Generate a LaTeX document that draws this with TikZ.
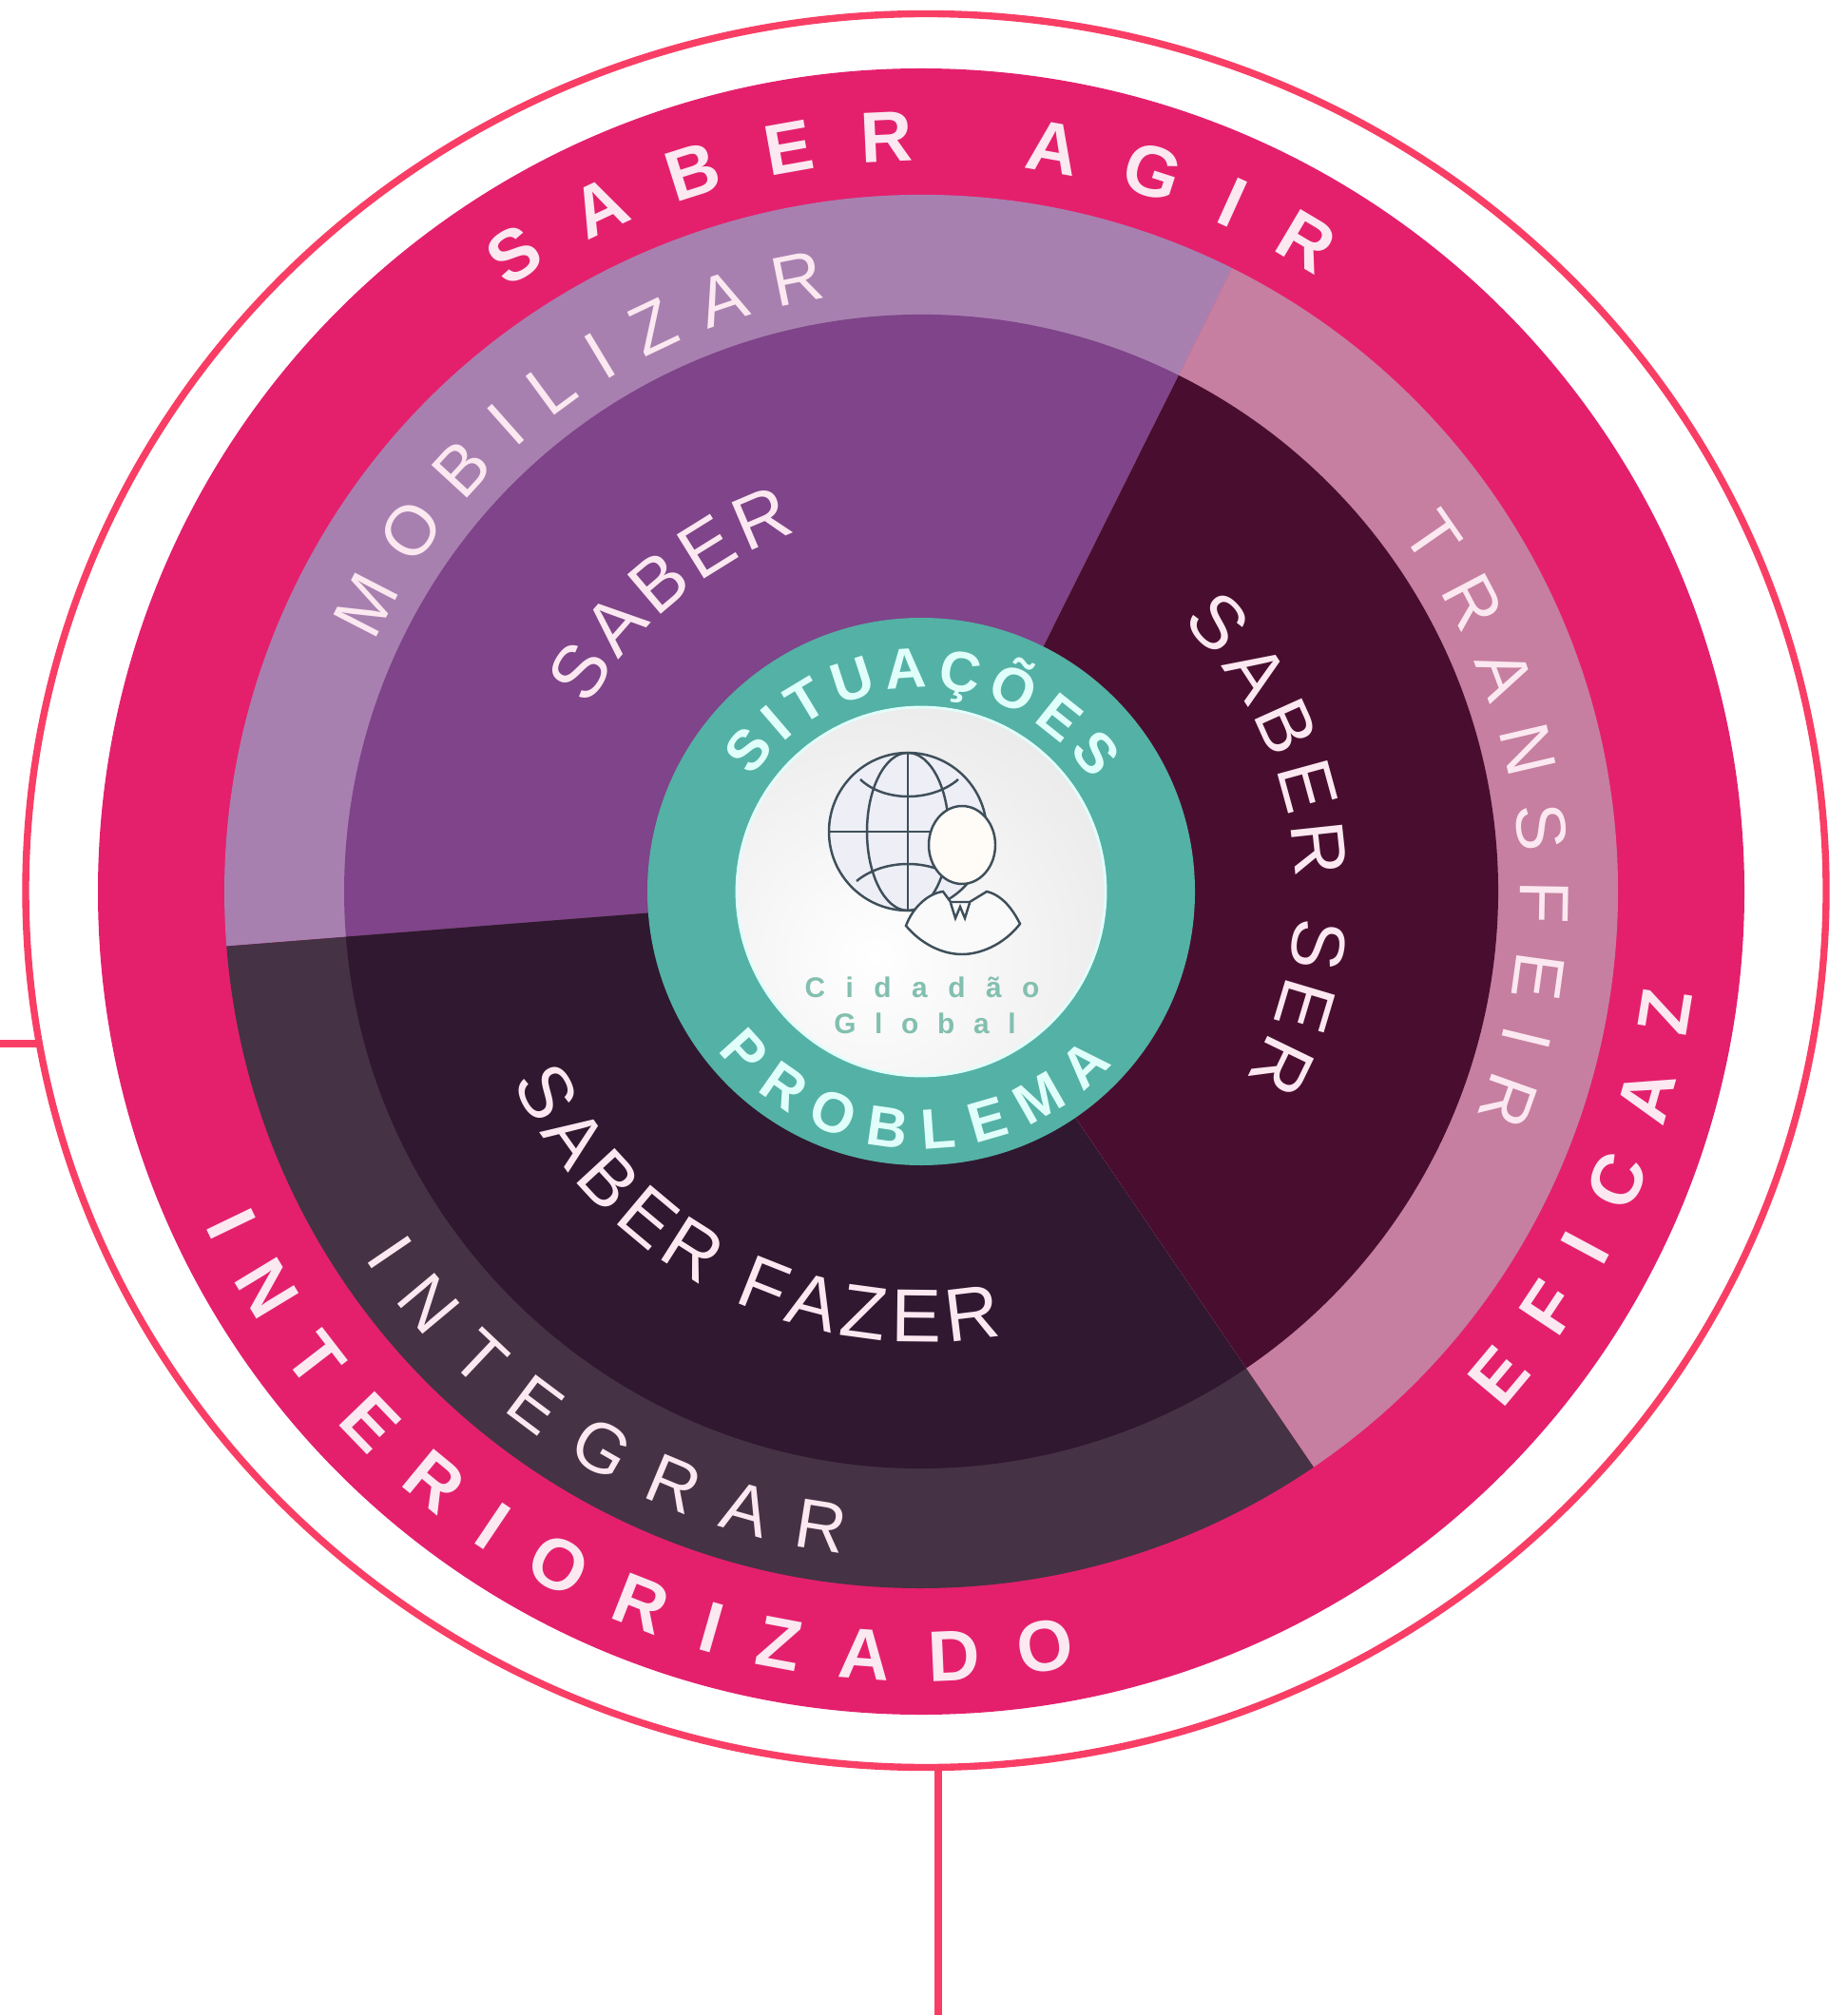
\documentclass[tikz,border=0pt]{standalone}
\usepackage{fontspec}
\usetikzlibrary{decorations.text,shapes.geometric}
\newfontfamily\labelfont{Liberation Sans}
\newfontfamily\cidadaofont{Liberation Sans}[LetterSpace=72]
\newfontfamily\globalfont{Liberation Sans}[LetterSpace=66]
\definecolor{ringline}{HTML}{F93E66}
\definecolor{discpink}{HTML}{E4206D}
\definecolor{saberlight}{HTML}{A880B0}
\definecolor{saberdark}{HTML}{7F4489}
\definecolor{serlight}{HTML}{C67FA0}
\definecolor{serdark}{HTML}{490E2F}
\definecolor{fazerlight}{HTML}{463245}
\definecolor{fazerdark}{HTML}{2F1830}
\definecolor{problemteal}{HTML}{54B1A5}
\definecolor{globeline}{HTML}{3E4F5A}
\definecolor{citizen}{HTML}{82BFAF}
\definecolor{softwhite}{HTML}{FBE8F0}
\definecolor{softteal}{HTML}{E0FFFB}
\newcommand{\bigband}{\labelfont\bfseries\fontsize{21.5}{24}\selectfont}
\newcommand{\midband}{\labelfont\fontsize{21}{24}\selectfont}
\newcommand{\coreband}{\labelfont\fontsize{22.5}{26}\selectfont}
\newcommand{\tealband}{\labelfont\bfseries\fontsize{17}{20}\selectfont}
\tikzset{
    bandtext/.style={
        decorate,
        decoration={text along path,text align=fit to path,text color=#1},
    },
    outline/.style={draw=globeline,line width=0.7pt},
    ringstub/.style={draw=ringline,line width=2.1pt},
    citizenlabel/.style={text=citizen,inner sep=0pt},
}
\newcommand{\arcword}[6]{
    \path[bandtext=#1,decoration={text={|#2|#6}}] (#3:#5) arc (#3:#4:#5);
}
\begin{document}
\begin{tikzpicture}
    \useasboundingbox (0,0) rectangle (19.44,-21.2);

    \node[ellipse,draw=ringline,line width=2.1pt,minimum width=18.94cm,minimum height=18.45cm,
        inner sep=0pt,outer sep=0pt] (ring) at (9.74,-9.37) {};
    \coordinate (stubW) at (0,-10.98);
    \coordinate (stubS) at (9.87,-21.2);
    \draw[ringstub] (stubW) -- (stubW -| ring.190);
    \draw[ringstub] (stubS) -- (stubS |- ring.south);

    \begin{scope}[shift={(9.69,-9.38)}]
        \fill[discpink] (0,0) circle (8.66);
        \foreach \bandcol/\corecol/\from/\to in {
            saberlight/saberdark/63.5/184.5,
            fazerlight/fazerdark/184.5/304.3,
            serlight/serdark/-55.7/63.5
        }{
            \fill[\bandcol] (0,0) -- (\from:7.33) arc (\from:\to:7.33) -- cycle;
            \fill[\corecol] (0,0) -- (\from:6.07) arc (\from:\to:6.07) -- cycle;
        }
        \fill[problemteal] (0,0) circle (2.88);
        \begin{scope}
            \clip (0,0) circle (1.94);
            \shade[inner color=white,outer color=black!14] (-0.5,-0.7) circle (5);
        \end{scope}
        \draw[softteal,line width=0.8pt] (0,0) circle (1.94);

        \arcword{softwhite}{\bigband}{124.5}{57.3}{7.69}{SABER AGIR}
        \arcword{softwhite}{\bigband}{-41.7}{-7.6}{8.19}{EFICAZ}
        \arcword{softwhite}{\bigband}{205}{281.3}{8.31}{INTERIORIZADO}
        \arcword{softwhite}{\midband}{155.5}{99}{6.32}{MOBILIZAR}
        \arcword{softwhite}{\midband}{36.8}{-22}{6.30}{TRANSFEIR}
        \arcword{softwhite}{\midband}{213.4}{263.2}{7.01}{INTEGRAR}
        \arcword{softwhite}{\coreband}{151}{109}{4.00}{SABER}
        \arcword{softwhite}{\coreband}{46}{-30}{3.94}{SABER SER}
        \arcword{softwhite}{\coreband}{205}{280.3}{4.74}{SABER FAZER}
        \arcword{softteal}{\tealband}{146}{33}{2.14}{SITUAÇÕES}
        \arcword{softteal}{\tealband}{218}{318}{2.71}{PROBLEMA}
    \end{scope}

    % globe and citizen
    \fill[blue!30!gray!10] (9.55,-8.75) circle (0.83);
    \draw[outline] (9.55,-8.75) circle (0.83);
    \draw[outline] (9.55,-8.75) ellipse (0.43 and 0.83);
    \draw[outline] (9.55,-7.92) -- (9.55,-9.58);
    \draw[outline] (8.72,-8.75) -- (10.38,-8.75);
    \draw[outline] (9.05,-8.20) .. controls (9.3,-8.44) and (9.8,-8.44) .. (10.08,-8.20);
    \draw[outline] (9.01,-9.27) .. controls (9.3,-9.03) and (9.8,-9.03) .. (10.09,-9.27);
    \filldraw[outline,fill=white!97!orange] (10.12,-8.89) ellipse (0.35 and 0.41);
    \filldraw[outline,fill=white!96!gray] (9.53,-9.74) .. controls (9.60,-9.55) and (9.76,-9.40) .. (9.92,-9.38)
        -- (10.00,-9.49) -- (10.20,-9.49) -- (10.38,-9.38)
        .. controls (10.55,-9.42) and (10.66,-9.58) .. (10.73,-9.72)
        .. controls (10.55,-9.95) and (10.30,-10.04) .. (10.12,-10.04)
        .. controls (9.90,-10.04) and (9.68,-9.92) .. (9.53,-9.74) -- cycle;
    \draw[outline] (10.0,-9.5) -- (10.05,-9.66) -- (10.1,-9.54) -- (10.15,-9.66) -- (10.2,-9.5);

    \node[citizenlabel] (cidadao) at (9.70,-10.39) {\cidadaofont\bfseries\fontsize{8.5}{10}\selectfont Cidadão};
    \node[citizenlabel] (global) at (9.73,-10.77) {\globalfont\bfseries\fontsize{8.5}{10}\selectfont Global};
\end{tikzpicture}
\end{document}
